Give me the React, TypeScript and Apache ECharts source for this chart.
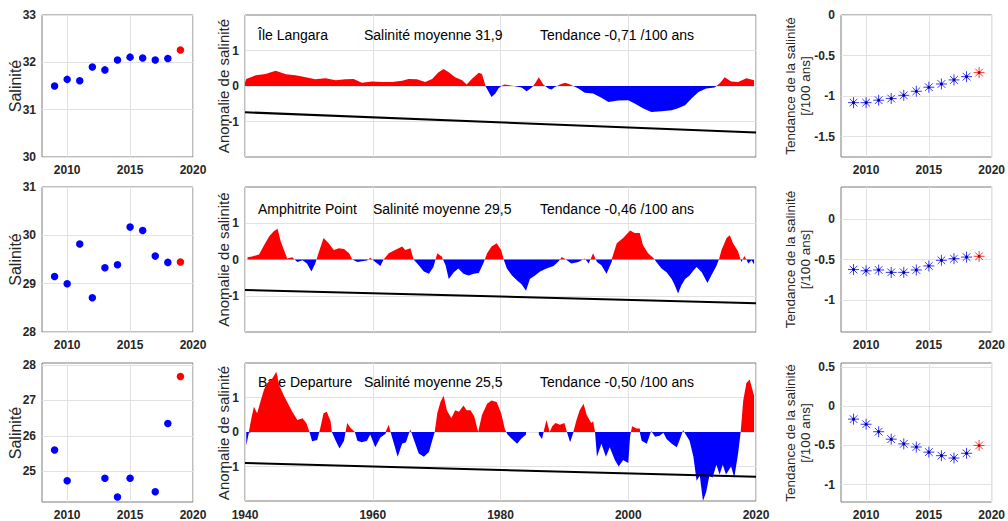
import React, { useEffect, useRef } from "react";
import * as echarts from "echarts";

// ---------- Data ----------
const YEARS = [2009, 2010, 2011, 2012, 2013, 2014, 2015, 2016, 2017, 2018, 2019];

// Annual mean salinity per station (last year highlighted)
const LANGARA_SAL = [31.5, 31.64, 31.61, 31.9, 31.84, 32.05, 32.11, 32.09, 32.05, 32.08, 32.26];
const AMPHITRITE_SAL = [29.15, 29.0, 29.82, 28.71, 29.33, 29.39, 30.17, 30.1, 29.57, 29.44, 29.45];
const DEPARTURE_SAL = [25.6, 24.73, null, null, 24.8, 24.27, 24.8, null, 24.42, 26.35, 27.68];

// Long-term trend (per 100 years) computed up to each year
const LANGARA_TREND = [-1.08, -1.08, -1.05, -1.03, -0.99, -0.94, -0.89, -0.85, -0.8, -0.76, -0.71];
const AMPHITRITE_TREND = [-0.625, -0.64, -0.63, -0.66, -0.66, -0.63, -0.58, -0.51, -0.49, -0.47, -0.46];
const DEPARTURE_TREND = [-0.165, -0.23, -0.325, -0.42, -0.48, -0.52, -0.585, -0.63, -0.66, -0.6, -0.5];

// Smoothed salinity anomaly series [year, anomaly]
const LANGARA_ANOM: [number, number | null][] = [
  [1940.0, 0.1], [1940.2, 0.2], [1941.7, 0.3], [1943.2, 0.34], [1944.8, 0.43], [1946.4, 0.33],
  [1947.9, 0.3], [1949.5, 0.25], [1951.0, 0.19], [1952.6, 0.22], [1954.2, 0.16], [1955.7, 0.19],
  [1957.0, 0.2], [1958.3, 0.09], [1959.9, 0.13], [1961.5, 0.11], [1963.0, 0.11], [1964.6, 0.15],
  [1965.6, 0.2], [1966.9, 0.19], [1968.2, 0.11], [1969.3, 0.2], [1970.3, 0.39], [1971.1, 0.48],
  [1971.9, 0.39], [1972.9, 0.25], [1974.0, 0.16], [1974.7, 0.04], [1975.5, 0.2], [1976.6, 0.37],
  [1977.1, 0.34], [1977.7, -0.02], [1978.6, -0.31], [1979.2, -0.21], [1979.7, -0.06], [1980.2, 0.01],
  [1980.6, 0.04], [1981.8, 0.01], [1983.3, -0.04], [1984.1, -0.15], [1984.9, -0.04], [1985.4, 0.07],
  [1986.0, 0.25], [1986.7, 0.04], [1987.5, -0.07], [1988.0, -0.1], [1988.5, -0.03], [1989.3, 0.04],
  [1990.1, 0.09], [1990.9, 0.04], [1991.4, 0.0], [1992.2, -0.07], [1993.2, -0.19], [1994.5, -0.21],
  [1995.8, -0.33], [1996.9, -0.45], [1998.4, -0.41], [2000.0, -0.4], [2001.0, -0.49], [2002.3, -0.63],
  [2003.6, -0.73], [2005.2, -0.71], [2006.8, -0.68], [2007.8, -0.63], [2008.9, -0.54], [2009.9, -0.35],
  [2011.0, -0.17], [2012.2, -0.07], [2013.5, -0.04], [2014.3, 0.07], [2015.1, 0.25], [2016.1, 0.13],
  [2017.2, 0.11], [2018.5, 0.22], [2019.7, 0.16],
];

const AMPHITRITE_ANOM: [number, number | null][] = [
  [1940.4, 0.06], [1941.1, 0.08], [1942.2, 0.14], [1943.0, 0.4], [1943.8, 0.64], [1944.5, 0.78],
  [1945.1, 0.85], [1945.6, 0.5], [1946.1, 0.26], [1946.6, 0.03], [1947.4, 0.06], [1948.2, -0.07],
  [1949.0, -0.02], [1949.7, -0.11], [1950.4, -0.33], [1951.0, -0.11], [1951.5, 0.17], [1952.3, 0.59],
  [1953.1, 0.45], [1953.9, 0.26], [1954.7, 0.31], [1955.5, 0.29], [1956.3, 0.17], [1956.8, 0.0],
  [1957.6, -0.07], [1958.3, -0.05], [1959.1, -0.03], [1959.6, 0.05], [1960.4, -0.07], [1961.2, -0.18],
  [1961.7, 0.0], [1962.5, 0.17], [1963.5, 0.26], [1964.6, 0.36], [1965.1, 0.26], [1965.9, 0.31],
  [1966.4, 0.0], [1967.2, -0.16], [1968.0, -0.33], [1968.8, -0.39], [1969.5, -0.21], [1970.1, 0.17],
  [1970.8, 0.08], [1971.4, -0.16], [1971.9, -0.54], [1972.7, -0.35], [1973.4, -0.25], [1974.2, -0.39],
  [1975.0, -0.44], [1975.8, -0.39], [1976.6, -0.37], [1977.3, -0.11], [1977.9, 0.17], [1978.6, 0.36],
  [1979.4, 0.45], [1980.1, 0.26], [1980.5, 0.0], [1981.0, -0.25], [1981.8, -0.44], [1982.6, -0.58],
  [1983.3, -0.68], [1984.0, -0.86], [1984.6, -0.54], [1985.4, -0.44], [1986.2, -0.33], [1987.2, -0.25],
  [1988.3, -0.18], [1989.1, -0.05], [1989.6, 0.07], [1990.4, -0.02], [1991.1, -0.11], [1992.2, -0.07],
  [1993.2, 0.03], [1993.8, -0.11], [1994.5, 0.17], [1995.1, -0.07], [1995.8, -0.16], [1996.6, -0.39],
  [1997.4, -0.07], [1998.2, 0.45], [1999.2, 0.59], [2000.3, 0.8], [2001.0, 0.73], [2001.8, 0.73],
  [2002.3, 0.4], [2003.1, 0.17], [2003.9, 0.05], [2004.4, -0.07], [2005.2, -0.25], [2006.0, -0.35],
  [2006.8, -0.54], [2007.3, -0.72], [2007.8, -0.94], [2008.3, -0.72], [2008.9, -0.54], [2009.6, -0.44],
  [2010.2, -0.3], [2010.7, -0.21], [2011.5, -0.35], [2012.4, -0.65], [2013.0, -0.44], [2013.8, -0.18],
  [2014.2, 0.0], [2014.6, 0.26], [2015.4, 0.59], [2015.9, 0.67], [2016.4, 0.45], [2017.2, 0.22],
  [2017.7, -0.07], [2018.2, 0.1], [2018.8, -0.11], [2019.3, -0.02], [2019.7, -0.14],
];

const DEPARTURE_ANOM: [number, number | null][] = [
  [1940.2, -0.39], [1940.6, -0.02], [1941.0, 0.4], [1941.4, 0.73], [1941.9, 0.54], [1942.4, 0.87],
  [1943.0, 1.24], [1943.5, 1.42], [1944.3, 1.56], [1944.9, 1.75], [1945.4, 1.33], [1946.1, 1.05],
  [1946.6, 0.87], [1947.4, 0.59], [1948.2, 0.35], [1949.0, 0.4], [1949.6, 0.26], [1950.1, 0.0],
  [1950.5, -0.27], [1951.3, -0.23], [1951.8, 0.12], [1952.3, 0.54], [1952.8, 0.59], [1953.4, 0.31],
  [1953.6, 0.0], [1954.2, -0.25], [1954.8, -0.48], [1955.5, -0.25], [1956.0, 0.26], [1956.5, 0.12],
  [1957.2, 0.0], [1957.6, -0.25], [1958.3, -0.3], [1959.1, -0.25], [1959.6, -0.07], [1960.4, -0.44],
  [1961.2, -0.16], [1962.0, -0.05], [1962.5, 0.21], [1962.9, -0.07], [1963.4, -0.39], [1963.9, -0.72],
  [1964.6, -0.34], [1965.2, -0.3], [1965.6, -0.07], [1965.9, 0.07], [1966.4, -0.2], [1967.2, -0.62],
  [1968.0, -0.72], [1968.8, -0.58], [1969.3, -0.25], [1969.7, 0.0], [1970.1, 0.54], [1970.6, 0.87],
  [1971.1, 1.05], [1971.6, 0.63], [1972.3, 0.4], [1972.9, 0.63], [1973.5, 0.59], [1974.2, 0.77],
  [1974.7, 0.63], [1975.3, 0.63], [1975.9, 0.45], [1976.5, 0.0], [1977.1, 0.49], [1977.9, 0.82],
  [1978.6, 0.91], [1979.4, 0.87], [1980.1, 0.54], [1980.7, 0.07], [1981.1, -0.07], [1981.8, -0.2],
  [1982.6, -0.34], [1983.2, -0.2], [1984.0, -0.07], [1985.0, null], [1986.0, -0.07], [1986.5, -0.2],
  [1986.9, 0.12], [1987.2, 0.35], [1987.7, 0.0], [1988.1, 0.17], [1988.6, 0.26], [1989.3, 0.21],
  [1990.0, 0.26], [1990.4, 0.0], [1990.9, -0.3], [1991.4, -0.02], [1991.9, 0.35], [1992.4, 0.63],
  [1993.0, 0.82], [1993.5, 0.49], [1994.2, 0.26], [1994.5, 0.31], [1994.8, 0.0], [1995.1, -0.72],
  [1995.8, -0.34], [1996.5, -0.72], [1997.1, -0.44], [1997.9, -0.81], [1998.5, -1.0], [1999.2, -0.81],
  [2000.0, -0.9], [2000.3, -0.11], [2000.6, 0.17], [2001.3, 0.1], [2001.8, 0.1], [2002.1, -0.25],
  [2002.9, -0.34], [2003.4, -0.07], [2003.6, 0.03], [2004.2, -0.14], [2004.9, -0.11], [2005.5, -0.02],
  [2006.0, -0.2], [2006.8, -0.34], [2007.6, -0.44], [2008.1, -0.2], [2008.6, 0.06], [2009.0, -0.07],
  [2009.6, -0.25], [2010.2, -0.72], [2010.7, -1.41], [2011.2, -1.27], [2011.7, -2.0], [2012.2, -1.74],
  [2012.7, -1.27], [2013.2, -1.32], [2013.8, -0.95], [2014.3, -1.23], [2014.8, -0.95], [2015.3, -1.23],
  [2016.1, -1.0], [2016.6, -1.32], [2017.2, -0.62], [2017.6, 0.0], [2018.0, 0.91], [2018.5, 1.42],
  [2019.0, 1.52], [2019.7, 1.05],
];

// Station labels and summary statistics
const STATIONS = ["Île Langara", "Amphitrite Point", "Baie Departure"];
const MEAN_SALINITY = [31.9, 29.5, 25.5];
const TREND_PER_CENTURY = [-0.71, -0.46, -0.5];
const TREND_LINE_START = [-0.74, -0.84, -0.9]; // fitted anomaly at 1940
const TREND_SPAN = [1940, 2020];

// ---------- Layout ----------
const FONT = "'Liberation Sans', Arial, Helvetica, sans-serif";
const COL_X = [42, 245, 841];
const COL_W = [151, 511, 152];
const ROW_Y = [15, 187, 363];
const ROW_H = [142, 145, 140];

const LEFT_Y = [
  { min: 30, max: 33, ticks: [30, 31, 32, 33] },
  { min: 28, max: 31, ticks: [28, 29, 30, 31] },
  { min: 24.13, max: 28.06, ticks: [25, 26, 27, 28] },
];
const RIGHT_Y = [
  { min: -1.75, max: 0, ticks: [-1.5, -1, -0.5, 0] },
  { min: -1.4, max: 0.4, ticks: [-1, -0.5, 0] },
  { min: -1.22, max: 0.55, ticks: [-1, -0.5, 0, 0.5] },
];
const ANNOT_X = [
  [258, 364, 540],
  [258, 373, 540],
  [258, 364, 540],
];
const ANNOT_DY = [20, 22, 19];

const fmt = (v: number, d: number) => v.toFixed(d).replace(".", ",");
const plain = (v: number) => String(v);

function splitSigns(pts: [number, number | null][]) {
  const pos: [number, number | null][] = [];
  const neg: [number, number | null][] = [];
  for (let i = 0; i < pts.length; i++) {
    const [x, v] = pts[i];
    if (v == null) {
      pos.push([x, null]);
      neg.push([x, null]);
      continue;
    }
    if (i > 0) {
      const [px, pv] = pts[i - 1];
      if (pv != null && ((pv > 0 && v < 0) || (pv < 0 && v > 0))) {
        const t = pv / (pv - v);
        const xc = px + t * (x - px);
        pos.push([xc, 0]);
        neg.push([xc, 0]);
      }
    }
    pos.push([x, Math.max(v, 0)]);
    neg.push([x, Math.min(v, 0)]);
  }
  return { pos, neg };
}

function buildOption() {
  const grids: any[] = [];
  const xAxes: any[] = [];
  const yAxes: any[] = [];
  const series: any[] = [];
  const graphic: any[] = [];

  const labelStyle = { color: "#262626", fontWeight: "bold", fontSize: 12, fontFamily: FONT, formatter: plain };
  const split = { show: true, lineStyle: { color: "#e2e2e2", width: 1 } };

  const salinity = [LANGARA_SAL, AMPHITRITE_SAL, DEPARTURE_SAL];
  const trends = [LANGARA_TREND, AMPHITRITE_TREND, DEPARTURE_TREND];
  const anomalies = [LANGARA_ANOM, AMPHITRITE_ANOM, DEPARTURE_ANOM];

  for (let r = 0; r < 3; r++) {
    for (let c = 0; c < 3; c++) {
      const idx = r * 3 + c;
      grids.push({
        left: COL_X[c],
        top: ROW_Y[r],
        width: COL_W[c],
        height: ROW_H[r],
        show: true,
        borderColor: "#7d7d7d",
        borderWidth: 1,
        backgroundColor: "transparent",
      });
      if (c === 1) {
        xAxes.push({
          type: "value", gridIndex: idx, min: 1940, max: 2020, interval: 20,
          axisLine: { show: false }, axisTick: { show: false }, splitLine: split,
          axisLabel: { ...labelStyle, show: r === 2, margin: 8 },
        });
        yAxes.push({
          type: "value", gridIndex: idx, min: -2, max: 2,
          axisLine: { show: false },
          axisTick: { show: false, customValues: [-1, 0, 1] },
          splitLine: split,
          axisLabel: { ...labelStyle, margin: 6, customValues: [-1, 0, 1] },
        });
      } else {
        const ycfg = c === 0 ? LEFT_Y[r] : RIGHT_Y[r];
        xAxes.push({
          type: "value", gridIndex: idx, min: 2008, max: 2020,
          axisLine: { show: false },
          axisTick: { show: false, customValues: [2010, 2015, 2020] },
          splitLine: split,
          axisLabel: { ...labelStyle, margin: 7, customValues: [2010, 2015, 2020] },
        });
        yAxes.push({
          type: "value", gridIndex: idx, min: ycfg.min, max: ycfg.max,
          axisLine: { show: false },
          axisTick: { show: false, customValues: ycfg.ticks },
          splitLine: split,
          axisLabel: { ...labelStyle, margin: 6, customValues: ycfg.ticks },
        });
      }
    }

    // Left: annual salinity
    const li = r * 3;
    const n = YEARS.length;
    series.push({
      type: "scatter", xAxisIndex: li, yAxisIndex: li, symbolSize: 7.5, silent: true,
      itemStyle: { color: "#0000ff", opacity: 1 },
      data: YEARS.slice(0, n - 1).map((y, i) => [y, salinity[r][i]]),
    });
    series.push({
      type: "scatter", xAxisIndex: li, yAxisIndex: li, symbolSize: 7.5, silent: true,
      itemStyle: { color: "#ff0000", opacity: 1 },
      data: [[YEARS[n - 1], salinity[r][n - 1]]],
    });

    // Middle: anomaly area split by sign, plus trend line
    const mi = r * 3 + 1;
    const { pos, neg } = splitSigns(anomalies[r]);
    series.push({
      type: "line", xAxisIndex: mi, yAxisIndex: mi, data: pos, symbol: "none", silent: true,
      connectNulls: false, lineStyle: { width: 0 }, areaStyle: { color: "#ff0000", opacity: 1 }, z: 2,
    });
    series.push({
      type: "line", xAxisIndex: mi, yAxisIndex: mi, data: neg, symbol: "none", silent: true,
      connectNulls: false, lineStyle: { width: 0 }, areaStyle: { color: "#0000ff", opacity: 1 }, z: 2,
    });
    const span = (TREND_SPAN[1] - TREND_SPAN[0]) / 100;
    series.push({
      type: "line", xAxisIndex: mi, yAxisIndex: mi, symbol: "none", silent: true, z: 4,
      lineStyle: { color: "#000000", width: 2 },
      data: [
        [TREND_SPAN[0], TREND_LINE_START[r]],
        [TREND_SPAN[1], TREND_LINE_START[r] + TREND_PER_CENTURY[r] * span],
      ],
    });

    // Right: trend evolution, asterisk markers
    const ri = r * 3 + 2;
    const star = "path://M5,0L5,10M0,5L10,5M1.5,1.5L8.5,8.5M1.5,8.5L8.5,1.5";
    const tBlue = YEARS.slice(0, n - 1).map((y, i) => [y, trends[r][i]]);
    const tRed = [[YEARS[n - 1], trends[r][n - 1]]];
    series.push({
      type: "scatter", xAxisIndex: ri, yAxisIndex: ri, symbol: star, symbolSize: 11, silent: true,
      itemStyle: { color: "rgba(0,0,0,0)", borderColor: "#3a3af5", borderWidth: 1, opacity: 1 }, data: tBlue,
    });
    series.push({
      type: "scatter", xAxisIndex: ri, yAxisIndex: ri, symbolSize: 3, silent: true,
      itemStyle: { color: "#0000a0", opacity: 1 }, data: tBlue,
    });
    series.push({
      type: "scatter", xAxisIndex: ri, yAxisIndex: ri, symbol: star, symbolSize: 11, silent: true,
      itemStyle: { color: "rgba(0,0,0,0)", borderColor: "#ff3a3a", borderWidth: 1, opacity: 1 }, data: tRed,
    });
    series.push({
      type: "scatter", xAxisIndex: ri, yAxisIndex: ri, symbolSize: 3, silent: true,
      itemStyle: { color: "#c00000", opacity: 1 }, data: tRed,
    });

    // Axis titles
    const cy = ROW_Y[r] + ROW_H[r] / 2;
    graphic.push({
      type: "text", x: 15, y: cy, rotation: Math.PI / 2, z: 1, silent: true,
      style: { text: "Salinité", fontSize: 16, fontFamily: FONT, fill: "#262626", align: "center", verticalAlign: "middle" },
    });
    graphic.push({
      type: "text", x: 223, y: cy, rotation: Math.PI / 2, z: 1, silent: true,
      style: { text: "Anomalie de salinité", fontSize: 15, fontFamily: FONT, fill: "#262626", align: "center", verticalAlign: "middle" },
    });
    graphic.push({
      type: "text", x: 798, y: cy, rotation: Math.PI / 2, z: 1, silent: true,
      style: {
        text: "Tendance de la salinité\n[/100 ans]", fontSize: 13.5, lineHeight: 15.5, fontFamily: FONT,
        fill: "#262626", align: "center", verticalAlign: "middle",
      },
    });

    // In-panel annotations
    const ty = ROW_Y[r] + ANNOT_DY[r];
    const texts = [
      STATIONS[r],
      `Salinité moyenne ${fmt(MEAN_SALINITY[r], 1)}`,
      `Tendance ${fmt(TREND_PER_CENTURY[r], 2)} /100 ans`,
    ];
    texts.forEach((t, k) => {
      graphic.push({
        type: "text", x: ANNOT_X[r][k], y: ty, z: 1, silent: true,
        style: { text: t, fontSize: 14, fontFamily: FONT, fill: "#000000", align: "left", verticalAlign: "middle" },
      });
    });
  }

  return {
    animation: false,
    backgroundColor: "#ffffff",
    grid: grids,
    xAxis: xAxes,
    yAxis: yAxes,
    series,
    graphic,
  };
}

export default function App() {
  const ref = useRef<HTMLDivElement | null>(null);
  useEffect(() => {
    if (!ref.current) return;
    const chart = echarts.init(ref.current, undefined, { renderer: "svg" });
    chart.setOption(buildOption() as any);
    return () => chart.dispose();
  }, []);
  return (
    <div
      ref={ref}
      style={{ position: "fixed", left: 0, top: 0, width: 1008, height: 521, background: "#fff" }}
    />
  );
}
